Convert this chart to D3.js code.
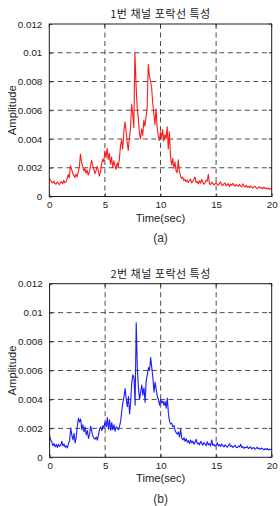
<!DOCTYPE html>
<html>
<head>
<meta charset="utf-8">
<script src="https://cdn.jsdelivr.net/npm/d3@7"></script>
<style>
  html, body { margin: 0; padding: 0; background: #fff; }
  svg { display: block; }
</style>
</head>
<body>
<svg id="chart" width="280" height="506"></svg>
<script>
// ---------------- data ----------------
const timeStart = 0;      // s
const timeStep = 0.1;     // s between samples

const xTicks = [0, 5, 10, 15, 20];
const xTickLabels = ["0", "5", "10", "15", "20"];
const yTicks = [0, 0.002, 0.004, 0.006, 0.008, 0.01, 0.012];
const yTickLabels = ["0", "0.002", "0.004", "0.006", "0.008", "0.01", "0.012"];

const titles = ["1번 채널 포락선 특성", "2번 채널 포락선 특성"];
const captions = ["(a)", "(b)"];
const xLabel = "Time(sec)";
const yLabel = "Amplitude";

// channel 1 envelope (red), samples every 0.1 s from 0 to 20 s
const channel1 = [
  0.00128, 0.00115, 0.00102, 0.00094, 0.00108, 0.00090, 0.00086, 0.00101, 0.00093, 0.00082,
  0.00096, 0.00104, 0.00088, 0.00112, 0.00095, 0.00100, 0.00124, 0.00152, 0.00130, 0.00215,
  0.00190, 0.00165, 0.00148, 0.00132, 0.00156, 0.00138, 0.00172, 0.00205, 0.00295, 0.00240,
  0.00210, 0.00178, 0.00195, 0.00162, 0.00184, 0.00150, 0.00170, 0.00208, 0.00252, 0.00220,
  0.00192, 0.00160, 0.00178, 0.00210, 0.00185, 0.00142, 0.00168, 0.00225, 0.00260, 0.00242,
  0.00315, 0.00270, 0.00335, 0.00258, 0.00300, 0.00225, 0.00275, 0.00200, 0.00248, 0.00215,
  0.00188, 0.00235, 0.00205, 0.00260, 0.00350, 0.00395, 0.00330, 0.00445, 0.00520, 0.00460,
  0.00380, 0.00320, 0.00410, 0.00465, 0.00640, 0.00580, 0.00480, 0.01000, 0.00780, 0.00620,
  0.00550, 0.00440, 0.00400, 0.00470, 0.00425, 0.00530, 0.00490, 0.00555, 0.00620, 0.00920,
  0.00840, 0.00800, 0.00760, 0.00650, 0.00580, 0.00500, 0.00610, 0.00480, 0.00420, 0.00390,
  0.00450, 0.00410, 0.00465, 0.00385, 0.00430, 0.00400, 0.00485, 0.00330, 0.00450, 0.00280,
  0.00220, 0.00265, 0.00195, 0.00240, 0.00180, 0.00165, 0.00255, 0.00175, 0.00145, 0.00125,
  0.00135, 0.00110, 0.00120, 0.00102, 0.00115, 0.00098, 0.00108, 0.00122, 0.00095, 0.00105,
  0.00118, 0.00135, 0.00096, 0.00104, 0.00088, 0.00110, 0.00092, 0.00120, 0.00100, 0.00085,
  0.00094, 0.00112, 0.00106, 0.00155, 0.00090, 0.00082, 0.00100, 0.00092, 0.00080, 0.00088,
  0.00096, 0.00084, 0.00078, 0.00090, 0.00102, 0.00080, 0.00076, 0.00088, 0.00094, 0.00074,
  0.00082, 0.00090, 0.00070, 0.00086, 0.00078, 0.00092, 0.00080, 0.00072, 0.00084, 0.00076,
  0.00070, 0.00084, 0.00074, 0.00068, 0.00088, 0.00072, 0.00066, 0.00078, 0.00064, 0.00070,
  0.00062, 0.00074, 0.00066, 0.00058, 0.00068, 0.00070, 0.00060, 0.00054, 0.00064, 0.00068,
  0.00058, 0.00062, 0.00054, 0.00066, 0.00056, 0.00060, 0.00052, 0.00058, 0.00050, 0.00056,
  0.00054
];

// channel 2 envelope (blue), samples every 0.1 s from 0 to 20 s
const channel2 = [
  0.00150, 0.00120, 0.00105, 0.00080, 0.00095, 0.00072, 0.00088, 0.00068, 0.00090, 0.00075,
  0.00085, 0.00110, 0.00078, 0.00092, 0.00070, 0.00080, 0.00065, 0.00095, 0.00115, 0.00200,
  0.00155, 0.00120, 0.00165, 0.00100, 0.00140, 0.00220, 0.00270, 0.00245, 0.00265, 0.00190,
  0.00225, 0.00175, 0.00210, 0.00155, 0.00185, 0.00130, 0.00160, 0.00215, 0.00180, 0.00145,
  0.00130, 0.00125, 0.00140, 0.00118, 0.00155, 0.00195, 0.00210, 0.00185, 0.00220, 0.00205,
  0.00245, 0.00210, 0.00275, 0.00195, 0.00260, 0.00185, 0.00240, 0.00190, 0.00225, 0.00180,
  0.00210, 0.00205, 0.00190, 0.00215, 0.00250, 0.00320, 0.00380, 0.00420, 0.00475, 0.00400,
  0.00350, 0.00420, 0.00300, 0.00380, 0.00520, 0.00570, 0.00550, 0.00360, 0.00930, 0.00620,
  0.00480, 0.00400, 0.00450, 0.00500, 0.00430, 0.00480, 0.00380, 0.00530, 0.00570, 0.00620,
  0.00600, 0.00690, 0.00620, 0.00550, 0.00450, 0.00520, 0.00470, 0.00420, 0.00400, 0.00360,
  0.00400, 0.00375, 0.00390, 0.00360, 0.00385, 0.00340, 0.00410, 0.00300, 0.00250, 0.00230,
  0.00235, 0.00210, 0.00220, 0.00185, 0.00170, 0.00160, 0.00175, 0.00140, 0.00195, 0.00130,
  0.00120, 0.00135, 0.00110, 0.00128, 0.00105, 0.00115, 0.00095, 0.00120, 0.00100, 0.00112,
  0.00090, 0.00105, 0.00125, 0.00092, 0.00100, 0.00085, 0.00110, 0.00098, 0.00084, 0.00102,
  0.00090, 0.00080, 0.00108, 0.00086, 0.00094, 0.00078, 0.00120, 0.00082, 0.00090, 0.00076,
  0.00084, 0.00100, 0.00078, 0.00088, 0.00074, 0.00092, 0.00080, 0.00072, 0.00086, 0.00078,
  0.00070, 0.00082, 0.00094, 0.00074, 0.00080, 0.00068, 0.00076, 0.00084, 0.00070, 0.00066,
  0.00078, 0.00072, 0.00090, 0.00068, 0.00074, 0.00062, 0.00070, 0.00066, 0.00076, 0.00060,
  0.00066, 0.00072, 0.00058, 0.00064, 0.00068, 0.00056, 0.00062, 0.00070, 0.00058, 0.00062,
  0.00056, 0.00064, 0.00058, 0.00052, 0.00060, 0.00054, 0.00062, 0.00050, 0.00056, 0.00054,
  0.00058
];

const seriesList = [channel1, channel2];
const seriesColors = ["#ff1a1a", "#1a1aff"];

// ---------------- layout ----------------
const panels = [
  { left: 49.3, right: 271.7, top: 24.0, bottom: 196.5, titleY: 12.5, xLabelY: 217.5, captionY: 238, yLabelX: 12 },
  { left: 49.6, right: 271.7, top: 283.7, bottom: 457.3, titleY: 272.5, xLabelY: 477.5, captionY: 498.5, yLabelX: 12 }
];

const svg = d3.select("#chart");
const latinFont = "'Liberation Sans', Arial, Helvetica, sans-serif";
const cjkFont = "'Noto Sans CJK KR', 'Noto Sans', sans-serif";

panels.forEach((p, k) => {
  const data = seriesList[k];
  const x = d3.scaleLinear().domain([0, 20]).range([p.left, p.right]);
  const y = d3.scaleLinear().domain([0, 0.012]).range([p.bottom, p.top]);
  const g = svg.append("g");

  // grid (dashed)
  g.append("g").selectAll("line.vg").data(xTicks.slice(1, -1)).join("line")
    .attr("x1", d => x(d)).attr("x2", d => x(d))
    .attr("y1", p.top).attr("y2", p.bottom)
    .attr("stroke", "#3a3a3a").attr("stroke-width", 0.9)
    .attr("stroke-dasharray", "5,3.5");
  g.append("g").selectAll("line.hg").data(yTicks.slice(1, -1)).join("line")
    .attr("y1", d => y(d)).attr("y2", d => y(d))
    .attr("x1", p.left).attr("x2", p.right)
    .attr("stroke", "#3a3a3a").attr("stroke-width", 0.9)
    .attr("stroke-dasharray", "5,3.5");

  // series line
  const line = d3.line()
    .x((d, i) => x(timeStart + i * timeStep))
    .y(d => y(d));
  g.append("path").datum(data)
    .attr("d", line)
    .attr("fill", "none")
    .attr("stroke", seriesColors[k])
    .attr("stroke-width", 1.1)
    .attr("stroke-linejoin", "round");

  // axes (ticks inward, labels outside)
  const xAxis = d3.axisBottom(x).tickValues(xTicks)
    .tickFormat((d, i) => xTickLabels[i]).tickSize(-3).tickPadding(6);
  const yAxis = d3.axisLeft(y).tickValues(yTicks)
    .tickFormat((d, i) => yTickLabels[i]).tickSize(-3).tickPadding(7);

  const gx = g.append("g").attr("transform", `translate(0,${p.bottom})`).call(xAxis);
  const gy = g.append("g").attr("transform", `translate(${p.left},0)`).call(yAxis);
  [gx, gy].forEach(ax => {
    ax.select(".domain").remove();
    ax.selectAll(".tick line").attr("stroke", "#222").attr("stroke-width", 0.8);
    ax.selectAll(".tick text")
      .attr("fill", "#222")
      .style("font-family", latinFont)
      .style("font-size", "9.8px");
  });
  gx.selectAll(".tick text").attr("dy", "0.55em");

  // top/right mirrored ticks
  g.append("g").selectAll("line").data(xTicks).join("line")
    .attr("x1", d => x(d)).attr("x2", d => x(d))
    .attr("y1", p.top).attr("y2", p.top + 3)
    .attr("stroke", "#222").attr("stroke-width", 0.8);
  g.append("g").selectAll("line").data(yTicks).join("line")
    .attr("y1", d => y(d)).attr("y2", d => y(d))
    .attr("x1", p.right).attr("x2", p.right - 3)
    .attr("stroke", "#222").attr("stroke-width", 0.8);

  // box
  g.append("rect")
    .attr("x", p.left).attr("y", p.top)
    .attr("width", p.right - p.left).attr("height", p.bottom - p.top)
    .attr("fill", "none").attr("stroke", "#1a1a1a").attr("stroke-width", 1);

  // title
  g.append("text")
    .attr("x", (p.left + p.right) / 2).attr("y", p.titleY)
    .attr("text-anchor", "middle").attr("dominant-baseline", "central")
    .style("font-family", cjkFont).style("font-size", "11px")
    .style("letter-spacing", "0.5px")
    .attr("fill", "#222")
    .text(titles[k]);

  // x label
  g.append("text")
    .attr("x", (p.left + p.right) / 2).attr("y", p.xLabelY)
    .attr("text-anchor", "middle").attr("dominant-baseline", "central")
    .style("font-family", latinFont).style("font-size", "11.2px")
    .attr("fill", "#222")
    .text(xLabel);

  // y label
  g.append("text")
    .attr("transform", `translate(${p.yLabelX},${(p.top + p.bottom) / 2}) rotate(-90)`)
    .attr("text-anchor", "middle").attr("dominant-baseline", "central")
    .style("font-family", latinFont).style("font-size", "11.2px")
    .attr("fill", "#222")
    .text(yLabel);

  // caption
  g.append("text")
    .attr("x", (p.left + p.right) / 2).attr("y", p.captionY)
    .attr("text-anchor", "middle").attr("dominant-baseline", "central")
    .style("font-family", latinFont).style("font-size", "12px")
    .attr("fill", "#333")
    .text(captions[k]);
});
</script>
</body>
</html>
